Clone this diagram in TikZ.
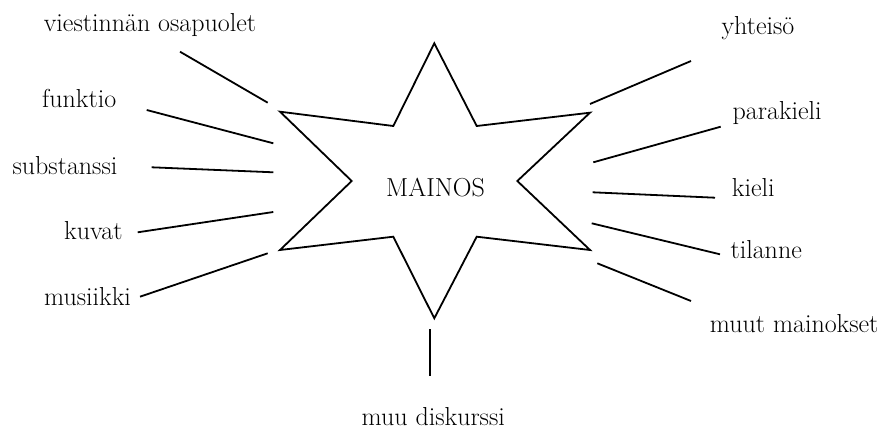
\documentclass[tikz,border=0pt]{standalone}
\usepackage{tikz}

\begin{document}
\begin{tikzpicture}[
x=1pt, y=-1pt,
term/.style={anchor=base, inner sep=0pt, font=\fontsize{26}{30}\selectfont},
spoke/.style={line width=1.8pt},
starline/.style={line width=1.8pt, line join=miter}
]
\useasboundingbox (0,0) rectangle (882,430);

% the star
\draw[starline] (434.3,43.3) -- (476.7,126) -- (590,112.7) -- (517.3,181)
  -- (590,250) -- (476.7,236.7) -- (434.3,318.3) -- (393.3,236.7)
  -- (280,250) -- (351.7,181) -- (280,111.7) -- (393.3,126) -- cycle;
\node[term] (mainos) at (435.5,196.7) {MAINOS};

% left side
\node[term] (osapuolet) at (150,31.5) {viestinnän osapuolet};
\node[term] (funktio) at (79.2,107.3) {funktio};
\node[term] (substanssi) at (65,175) {substanssi};
\node[term] (kuvat) at (93.3,239) {kuvat};
\node[term] (musiikki) at (87.5,305) {musiikki};

% right side
\node[term] (yhteiso) at (758,35) {yhteisö};
\node[term] (parakieli) at (777.2,119.3) {parakieli};
\node[term] (kieli) at (753.3,196.7) {kieli};
\node[term] (tilanne) at (766.2,258.3) {tilanne};
\node[term] (mainokset) at (794.2,332.7) {muut mainokset};

% bottom
\node[term] (diskurssi) at (433.3,425) {muu diskurssi};

% spoke ends
\coordinate (osapuolet-a) at (267.7,102.7);
\coordinate (osapuolet-b) at (180,51.7);
\coordinate (funktio-a) at (273.3,143.3);
\coordinate (funktio-b) at (146.7,110);
\coordinate (substanssi-a) at (273.3,172.3);
\coordinate (substanssi-b) at (151.7,167.3);
\coordinate (kuvat-a) at (273.3,212);
\coordinate (kuvat-b) at (137.7,232.3);
\coordinate (musiikki-a) at (267.7,253.3);
\coordinate (musiikki-b) at (140,296.7);
\coordinate (yhteiso-a) at (590,104);
\coordinate (yhteiso-b) at (691,61);
\coordinate (parakieli-a) at (593.3,162.3);
\coordinate (parakieli-b) at (720.7,126.7);
\coordinate (kieli-a) at (592.7,192.3);
\coordinate (kieli-b) at (715,197.7);
\coordinate (tilanne-a) at (591.7,223.3);
\coordinate (tilanne-b) at (720,254.3);
\coordinate (mainokset-a) at (597.3,263.3);
\coordinate (mainokset-b) at (691,301);
\coordinate (diskurssi-a) at (430,329.3);
\coordinate (diskurssi-b) at (430,376);

\draw[spoke] (osapuolet-a) -- (osapuolet-b);
\draw[spoke] (funktio-a) -- (funktio-b);
\draw[spoke] (substanssi-a) -- (substanssi-b);
\draw[spoke] (kuvat-a) -- (kuvat-b);
\draw[spoke] (musiikki-a) -- (musiikki-b);
\draw[spoke] (yhteiso-a) -- (yhteiso-b);
\draw[spoke] (parakieli-a) -- (parakieli-b);
\draw[spoke] (kieli-a) -- (kieli-b);
\draw[spoke] (tilanne-a) -- (tilanne-b);
\draw[spoke] (mainokset-a) -- (mainokset-b);
\draw[spoke] (diskurssi-a) -- (diskurssi-b);
\end{tikzpicture}
\end{document}
